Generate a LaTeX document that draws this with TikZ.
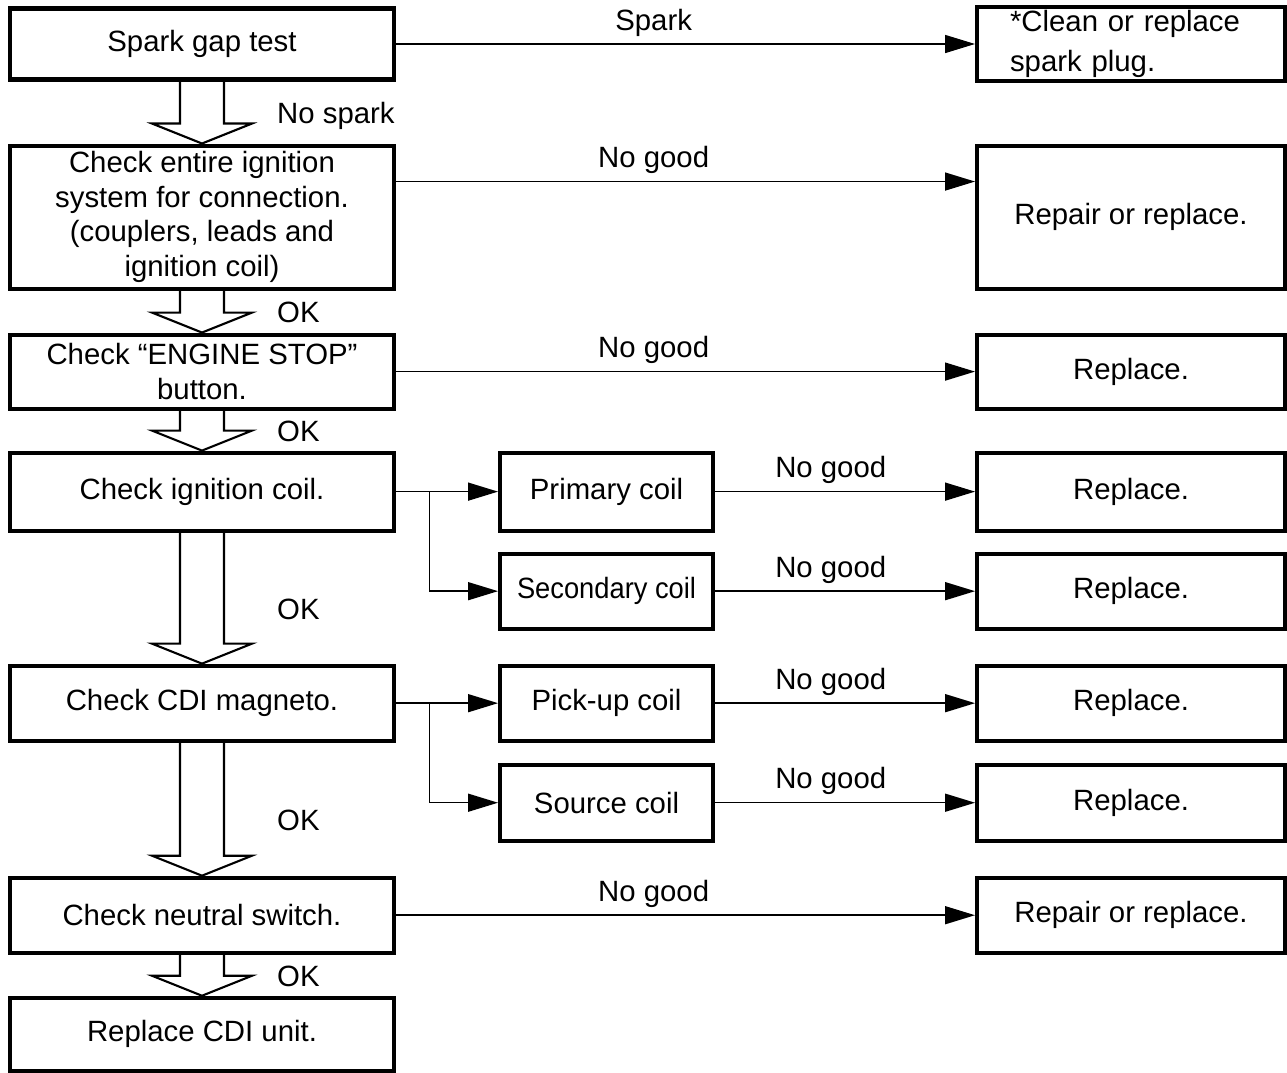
\documentclass[tikz,border=0pt]{standalone}
\usepackage{fontspec}
\setmainfont{Liberation Sans}
\usetikzlibrary{positioning,arrows.meta,calc}

\begin{document}
\begin{tikzpicture}[font=\fontsize{16.7}{19.6}\selectfont, >={Triangle[length=6mm, width=3.6mm]},
      bx/.style={draw, line width=2.3pt, align=center, inner sep=2pt},
      lb/.style={bx, minimum width=7.68cm},
      mb/.style={bx, minimum width=4.26cm},
      rb/.style={bx, minimum width=6.16cm},
      conn/.style={->, line width=0.85pt},
      ng/.style={anchor=base, pos=0.445, yshift=0.28cm},
      ok/.style={anchor=base west, xshift=1.38cm, yshift=-0.22cm},
      hollow/.style={draw, line width=1.2pt, to path={let \p1=(\tikztostart), \p2=(\tikztotarget) in
        (\x1-0.44cm,\y1) -- (\x1-0.44cm,\y2+0.4cm) -- (\x1-1cm,\y2+0.4cm) -- (\x1,\y2)
        -- (\x1+1cm,\y2+0.4cm) -- (\x1+0.44cm,\y2+0.4cm) -- (\x1+0.44cm,\y1)}}]
    \useasboundingbox (-4.04,0.88) rectangle (21.70,-20.56);
    % left column
    \node[lb, minimum height=1.42cm] (b1) at (0,0) {Spark gap test};
    \node[lb, minimum height=2.86cm, below=1.24cm of b1] (b2) {Check entire ignition\\system for connection.\\(couplers, leads and\\ignition coil)};
    \node[lb, minimum height=1.48cm, below=0.84cm of b2] (b3) {Check “ENGINE STOP”\\button.};
    \node[lb, minimum height=1.56cm, below=0.80cm of b3] (b4) {Check ignition coil.};
    \node[lb, minimum height=1.50cm, below=2.62cm of b4] (b5) {Check CDI magneto.};
    \node[lb, minimum height=1.50cm, below=2.66cm of b5] (b6) {Check neutral switch.};
    \node[lb, minimum height=1.46cm, below=0.82cm of b6] (b7) {Replace CDI unit.};
    % coils
    \node[mb, minimum height=1.56cm, right=2.04cm of b4] (m1) {Primary coil};
    \node[mb, minimum height=1.50cm, below=0.38cm of m1] (m2) {\scalebox{0.93}[1]{Secondary coil}};
    \node[mb, minimum height=1.50cm, right=2.04cm of b5] (m3) {Pick-up coil};
    \node[mb, minimum height=1.52cm, below=0.40cm of m3] (m4) {Source coil};
    % right column
    \node[rb, minimum height=1.42cm, text width=4.84cm, align=left, right=11.58cm of b1] (r1) {*Clean or replace\\[3pt]spark plug.};
    \node[rb, minimum height=2.86cm, right=11.58cm of b2] (r2) {Repair or replace.};
    \node[rb, minimum height=1.48cm, right=11.58cm of b3] (r3) {Replace.};
    \node[rb, minimum height=1.56cm, right=5.20cm of m1] (r4) {Replace.};
    \node[rb, minimum height=1.50cm, right=5.20cm of m2] (r5) {Replace.};
    \node[rb, minimum height=1.50cm, right=5.20cm of m3] (r6) {Replace.};
    \node[rb, minimum height=1.52cm, right=5.20cm of m4] (r7) {Replace.};
    \node[rb, minimum height=1.50cm, right=11.58cm of b6] (r8) {Repair or replace.};
    % hollow arrows
    \draw[hollow] (b1.south) to (b2.north);
    \draw[hollow] (b2.south) to (b3.north);
    \draw[hollow] (b3.south) to (b4.north);
    \draw[hollow] (b4.south) to (b5.north);
    \draw[hollow] (b5.south) to (b6.north);
    \draw[hollow] (b6.south) to (b7.north);
    \node[ok] (k1) at ($(b1.south)!0.5!(b2.north)$) {No spark};
    \node[ok] (k2) at ($(b2.south)!0.5!(b3.north)$) {OK};
    \node[ok] (k3) at ($(b3.south)!0.5!(b4.north)$) {OK};
    \node[ok, yshift=-0.2cm] (k4) at ($(b4.south)!0.5!(b5.north)$) {OK};
    \node[ok, yshift=-0.2cm] (k5) at ($(b5.south)!0.5!(b6.north)$) {OK};
    \node[ok] (k6) at ($(b6.south)!0.5!(b7.north)$) {OK};
    % connectors
    \draw[conn] (b1) -- node[ng]{Spark} (r1);
    \draw[conn] ([yshift=0.71cm]b2.east) -- node[ng]{No good} ([yshift=0.71cm]r2.west);
    \draw[conn] (b3) -- node[ng]{No good} (r3);
    \coordinate (j4) at ($(b4.east)!0.33!(m1.west)$);
    \draw[conn] (b4) -- (m1);
    \draw[conn] (j4) |- (m2.west);
    \coordinate (j5) at ($(b5.east)!0.33!(m3.west)$);
    \draw[conn] (b5) -- (m3);
    \draw[conn] (j5) |- (m4.west);
    \draw[conn] (m1) -- node[ng]{No good} (r4);
    \draw[conn] (m2) -- node[ng]{No good} (r5);
    \draw[conn] (m3) -- node[ng]{No good} (r6);
    \draw[conn] (m4) -- node[ng]{No good} (r7);
    \draw[conn] (b6) -- node[ng]{No good} (r8);
  \end{tikzpicture}
\end{document}
